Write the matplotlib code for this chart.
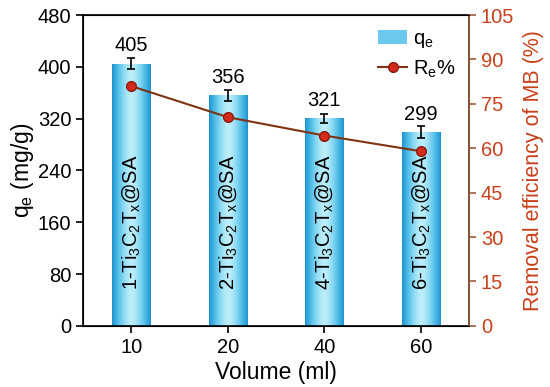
import numpy as np
import matplotlib.pyplot as plt
from matplotlib.patches import Rectangle
from matplotlib.legend_handler import HandlerBase
from matplotlib.colors import LinearSegmentedColormap

plt.rcParams['font.family'] = ['Liberation Sans', 'DejaVu Sans']
plt.rcParams['mathtext.fontset'] = 'custom'
plt.rcParams['mathtext.rm'] = 'Liberation Sans'
plt.rcParams['mathtext.it'] = 'Liberation Sans'

volumes = ['10', '20', '40', '60']
qe = [405, 356, 321, 299]
qe_err = [8, 8, 7, 9]
removal = [81.0, 70.5, 64.3, 59.0]
samples = ['1-Ti$_3$C$_2$T$_x$@SA', '2-Ti$_3$C$_2$T$_x$@SA',
           '4-Ti$_3$C$_2$T$_x$@SA', '6-Ti$_3$C$_2$T$_x$@SA']

red = '#c8401c'
brown = '#9c5a3c'
fs = 14.5

# horizontal gradient used inside the bars
grad = np.abs(np.linspace(-1, 1, 64)) ** 1.5
cmap = LinearSegmentedColormap.from_list('bluebar', ['#bdeefa', '#5cc4ec', '#1e95d2'])

fig, ax = plt.subplots(figsize=(5.5, 3.87), dpi=100)
fig.subplots_adjust(left=0.151, right=0.853, top=0.961, bottom=0.158)

x = np.arange(len(volumes))
width = 0.4
bars = ax.bar(x, qe, width, color='none', edgecolor='none', zorder=2)
for b in bars:
    im = ax.imshow(grad[np.newaxis, :], cmap=cmap, aspect='auto',
                   extent=(b.get_x(), b.get_x() + b.get_width(), 0, b.get_height()),
                   zorder=2)
    im.set_clip_path(b)
ax.errorbar(x, qe, yerr=qe_err, fmt='none', ecolor='black', elinewidth=1.2,
            capsize=3, capthick=1.2, zorder=3)
for xi, v, s in zip(x, qe, samples):
    ax.text(xi, v + 13, str(v), ha='center', va='bottom', fontsize=fs)
    ax.text(xi, 55, s, rotation=90, ha='center', va='bottom', fontsize=fs)

ax.set_xlim(-0.5, 3.5)
ax.set_ylim(0, 480)
ax.set_yticks(np.arange(0, 481, 80))
ax.set_xticks(x)
ax.set_xticklabels(volumes)
ax.tick_params(labelsize=fs, width=1.2, length=5)
ax.set_xlabel('Volume (ml)', fontsize=16.5, labelpad=3)
ax.set_ylabel('q$_e$ (mg/g)', fontsize=16.5, labelpad=1)
for sp in ax.spines.values():
    sp.set_linewidth(1.2)

ax2 = ax.twinx()
ax2.plot(x, removal, '-', color='#7e3412', lw=1.5, marker='o', ms=7,
         mfc='#d42a1a', mec='#8a1a10', mew=1, zorder=4)
ax2.set_ylim(0, 105)
ax2.set_yticks(np.arange(0, 106, 15))
ax2.tick_params(labelsize=fs, colors=red, width=1.2, length=5)
ax2.tick_params(axis='y', color=brown)
ax2.spines['right'].set_color(brown)
ax2.spines['right'].set_linewidth(1.2)
ax2.set_ylabel('Removal efficiency of MB (%)', fontsize=15.5, color=red, labelpad=6)


class GradHandler(HandlerBase):
    def create_artists(self, legend, orig, xd, yd, w, h, fontsize, trans):
        r = Rectangle((xd, yd), w, h, facecolor='#6cc8ee', edgecolor='none', transform=trans)
        return [r]


proxy = Rectangle((0, 0), 1, 1)
line_h, = ax2.plot([], [], '-', color='#7e3412', lw=1.5, marker='o', ms=7,
                   mfc='#d42a1a', mec='#8a1a10')
ax2.legend([proxy, line_h], ['q$_e$', 'R$_e$%'], handler_map={Rectangle: GradHandler()},
           loc='upper right', frameon=False, fontsize=fs, handlelength=1.4,
           handletextpad=0.3, borderaxespad=0.3, labelspacing=0.4)

fig.savefig('out.png', dpi=100)
